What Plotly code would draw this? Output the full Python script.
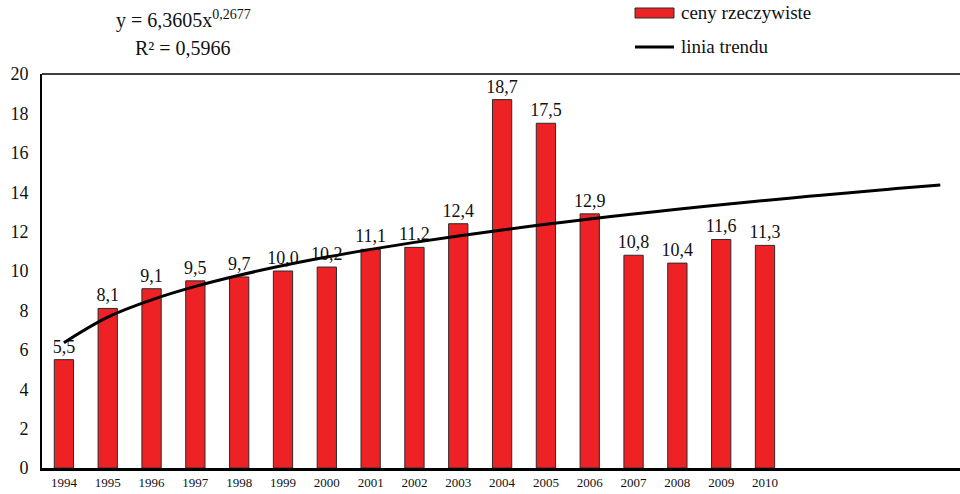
import plotly.graph_objects as go

years = ['1994', '1995', '1996', '1997', '1998', '1999', '2000', '2001', '2002',
         '2003', '2004', '2005', '2006', '2007', '2008', '2009', '2010']
prices = [5.5, 8.1, 9.1, 9.5, 9.7, 10.0, 10.2, 11.1, 11.2,
          12.4, 18.7, 17.5, 12.9, 10.8, 10.4, 11.6, 11.3]
y_ticks = [0, 2, 4, 6, 8, 10, 12, 14, 16, 18, 20]

# power trend from the chart's equation, x = 1 for 1994, extended 4 periods ahead
trend_a = 6.3605
trend_b = 0.2677
trend_periods = 21

FONT = 'Liberation Serif, Times New Roman, serif'

pos = list(range(len(years)))
trend_x = [i - 1 for i in range(1, trend_periods + 1)]
trend_y = [trend_a * i ** trend_b for i in range(1, trend_periods + 1)]

fig = go.Figure()

fig.add_trace(go.Bar(
    x=pos,
    y=prices,
    width=0.44,
    marker=dict(color='#EE2224', line=dict(color='#2a2a2a', width=1)),
    texttemplate='%{y:.1f}',
    textposition='outside',
    constraintext='none',
    textfont=dict(family=FONT, size=18, color='#111'),
    cliponaxis=False,
    name='ceny rzeczywiste',
))

fig.add_trace(go.Scatter(
    x=trend_x,
    y=trend_y,
    mode='lines',
    line=dict(color='black', width=3, shape='spline'),
    name='linia trendu',
))

# top frame line
fig.add_shape(type='line', xref='paper', yref='paper', x0=0, x1=1, y0=1, y1=1,
              line=dict(color='black', width=1.5))

# hand-made legend
fig.add_shape(type='rect', xref='paper', yref='paper',
              x0=(635 - 42) / 918, x1=(674 - 42) / 918,
              y0=(468 - 18) / 394, y1=(468 - 8) / 394,
              fillcolor='#EE2224', line=dict(color='#2a2a2a', width=1))
fig.add_shape(type='line', xref='paper', yref='paper',
              x0=(635 - 42) / 918, x1=(674 - 42) / 918,
              y0=(468 - 47) / 394, y1=(468 - 47) / 394,
              line=dict(color='black', width=3))
fig.add_annotation(text='ceny rzeczywiste', xref='paper', yref='paper',
                   x=(679 - 42) / 918, y=(468 - 13) / 394,
                   xanchor='left', yanchor='middle', showarrow=False,
                   font=dict(family=FONT, size=19, color='#111'))
fig.add_annotation(text='linia trendu', xref='paper', yref='paper',
                   x=(679 - 42) / 918, y=(468 - 46) / 394,
                   xanchor='left', yanchor='middle', showarrow=False,
                   font=dict(family=FONT, size=19, color='#111'))

# trend equation
fig.add_annotation(text='y = 6,3605x<sup>0,2677</sup>', xref='paper', yref='paper',
                   x=(183 - 42) / 918, y=(468 - 20) / 394,
                   xanchor='center', yanchor='middle', showarrow=False,
                   font=dict(family=FONT, size=20, color='#111'))
fig.add_annotation(text='R² = 0,5966', xref='paper', yref='paper',
                   x=(183 - 42) / 918, y=(468 - 48) / 394,
                   xanchor='center', yanchor='middle', showarrow=False,
                   font=dict(family=FONT, size=20, color='#111'))

fig.update_layout(
    width=960,
    height=494,
    margin=dict(l=42, r=0, t=74, b=26),
    paper_bgcolor='white',
    plot_bgcolor='white',
    showlegend=False,
    separators=', ',
    xaxis=dict(
        range=[-0.5, 20.45],
        tickvals=pos,
        ticktext=years,
        showgrid=False,
        zeroline=False,
        showline=True,
        linecolor='black',
        linewidth=3,
        ticks='',
        tickfont=dict(family=FONT, size=13, color='#111'),
    ),
    yaxis=dict(
        range=[0, 20],
        tickvals=y_ticks,
        showgrid=False,
        zeroline=False,
        showline=True,
        linecolor='black',
        linewidth=2,
        ticks='',
        ticklabelstandoff=8,
        tickfont=dict(family=FONT, size=18, color='#111'),
    ),
)

fig.write_html('out.html', config={'displayModeBar': False},
               post_script="document.body.style.margin='0';")
